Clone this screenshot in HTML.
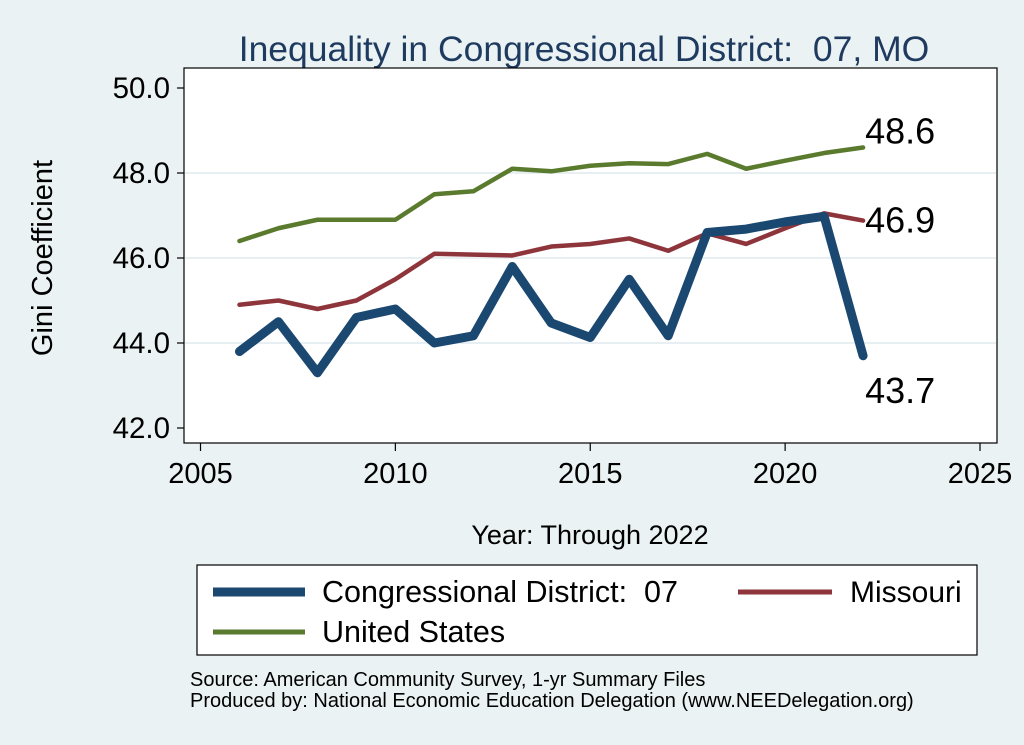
<!DOCTYPE html>
<html><head><meta charset="utf-8"><style>
html,body{margin:0;padding:0;background:#eaf2f3;}
svg{display:block;font-family:"Liberation Sans",Arial,sans-serif;}
text{white-space:pre;}
</style></head><body>
<svg id="chart" width="1024" height="745" viewBox="0 0 1024 745" xmlns="http://www.w3.org/2000/svg" xml:space="preserve">
<rect x="0" y="0" width="1024" height="745" fill="#eaf2f3"/>
<text x="584" y="61" text-anchor="middle" font-size="35.5" fill="#1e3a5f">Inequality in Congressional District:  07, MO</text>
<rect x="184" y="68" width="813" height="375" fill="#fff" stroke="#000" stroke-width="1.2"/>
<g id="grid"></g>
<g id="axes"></g>
<g id="series"></g>
<text transform="translate(52,258) rotate(-90)" text-anchor="middle" font-size="29" fill="#000">Gini Coefficient</text>
<text x="590" y="544" text-anchor="middle" font-size="27" fill="#000">Year: Through 2022</text>
<g>
<rect x="197" y="565" width="780" height="90" fill="#fff" stroke="#000" stroke-width="1.2"/>
<line x1="213" y1="592" x2="305" y2="592" stroke="#1b4870" stroke-width="9"/>
<text x="322" y="602" font-size="30.5">Congressional District:  07</text>
<line x1="738" y1="592" x2="832" y2="592" stroke="#8e353c" stroke-width="5"/>
<text x="850" y="602" font-size="30">Missouri</text>
<line x1="213" y1="632" x2="305" y2="632" stroke="#5a7a2e" stroke-width="5"/>
<text x="322" y="642" font-size="30.5">United States</text>
</g>
<text x="190" y="686" font-size="20">Source: American Community Survey, 1-yr Summary Files</text>
<text x="190" y="707" font-size="20">Produced by: National Economic Education Delegation (www.NEEDelegation.org)</text>
</svg>
<script>
const years=[2006,2007,2008,2009,2010,2011,2012,2013,2014,2015,2016,2017,2018,2019,2020,2021,2022];
const usValues=[46.4,46.7,46.9,46.9,46.9,47.5,47.57,48.1,48.04,48.17,48.23,48.21,48.45,48.1,48.29,48.47,48.6];
const moValues=[44.9,45.0,44.8,45.0,45.5,46.1,46.08,46.06,46.27,46.33,46.46,46.17,46.58,46.33,46.7,47.05,46.88];
const cdValues=[43.8,44.5,43.3,44.6,44.8,44.0,44.17,45.8,44.47,44.13,45.5,44.17,46.6,46.68,46.85,46.98,43.7];
const xTicks=[2005,2010,2015,2020,2025];
const yTicks=[42,44,46,48,50];
const NS="http://www.w3.org/2000/svg";
function xs(v){return 200.5+(v-2005)*(980-200.5)/20;}
function ys(v){return 88+(50-v)*42.5;}
function mk(tag,attrs,parent){const e=document.createElementNS(NS,tag);for(const k in attrs)e.setAttribute(k,attrs[k]);parent.appendChild(e);return e;}
const grid=document.getElementById('grid'),axes=document.getElementById('axes'),ser=document.getElementById('series');
yTicks.forEach(t=>{
  if(t>42&&t<50){const g=mk('line',{x1:185,x2:996,y1:ys(t),y2:ys(t),stroke:'#e8eff2','stroke-width':2},grid);
  
  }
  const tk=mk('line',{x1:177,x2:184,y1:ys(t),y2:ys(t),stroke:'#000','stroke-width':1.2},axes);
  
  
  const lb=mk('text',{x:170,y:ys(t)+10,'text-anchor':'end','font-size':29.5},axes);
  lb.textContent=t.toFixed(1);
  
  
});
xTicks.forEach(t=>{
  const tk=mk('line',{x1:xs(t),x2:xs(t),y1:443,y2:451,stroke:'#000','stroke-width':1.2},axes);
  
  
  const lb=mk('text',{x:xs(t),y:483,'text-anchor':'middle','font-size':29},axes);
  lb.textContent=t;
  
  
});
function line(vals,color,w,name){
  const p=mk('polyline',{points:vals.map((v,i)=>xs(years[i])+','+ys(v)).join(' '),fill:'none',stroke:color,'stroke-width':w,'stroke-linejoin':'round','stroke-linecap':'round'},ser);
  
  
}
line(usValues,'#5a7a2e',4.5,'us-line');
line(moValues,'#8e353c',4.5,'missouri-line');
line(cdValues,'#1b4870',9,'district-line');
const n=years.length-1;
function lab(v,dy,name){
  const t=mk('text',{x:xs(years[n])+2,y:ys(v)+dy,'font-size':36},ser);
  t.textContent=v.toFixed(1);
  
  
}
lab(usValues[n],-4,'us-end-label');
lab(moValues[n],12,'missouri-end-label');
lab(cdValues[n],47,'district-end-label');
</script>
</body></html>
